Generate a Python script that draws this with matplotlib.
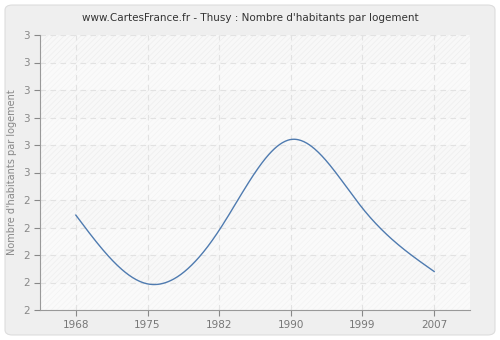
import numpy as np
import matplotlib
matplotlib.use("Agg")
import matplotlib.pyplot as plt
from matplotlib.patches import FancyBboxPatch
from matplotlib.ticker import FixedLocator, FuncFormatter

years = ["1968", "1975", "1982", "1990", "1999", "2007"]
values = [2.345, 2.095, 2.29, 2.62, 2.37, 2.14]
yticks = [2.0, 2.1, 2.2, 2.3, 2.4, 2.5, 2.6, 2.7, 2.8, 2.9, 3.0]


def natural_spline(x, y, n=400):
    x = np.asarray(x, float); y = np.asarray(y, float)
    k = len(x)
    h = np.diff(x)
    A = np.zeros((k, k)); b = np.zeros(k)
    A[0, 0] = 1; A[-1, -1] = 1
    for i in range(1, k - 1):
        A[i, i - 1] = h[i - 1]
        A[i, i] = 2 * (h[i - 1] + h[i])
        A[i, i + 1] = h[i]
        b[i] = 3 * ((y[i + 1] - y[i]) / h[i] - (y[i] - y[i - 1]) / h[i - 1])
    c = np.linalg.solve(A, b)
    xs = np.linspace(x[0], x[-1], n)
    ys = np.empty_like(xs)
    for j, xv in enumerate(xs):
        i = min(np.searchsorted(x, xv, side="right") - 1, k - 2)
        dx = xv - x[i]
        bb = (y[i + 1] - y[i]) / h[i] - h[i] * (2 * c[i] + c[i + 1]) / 3
        d = (c[i + 1] - c[i]) / (3 * h[i])
        ys[j] = y[i] + bb * dx + c[i] * dx ** 2 + d * dx ** 3
    return xs, ys


fig = plt.figure(figsize=(5, 3.4), dpi=100)
fig.patch.set_facecolor("white")
box = FancyBboxPatch((5 / 500, 5 / 340), 490 / 500, 330 / 340,
                     boxstyle="round,pad=0,rounding_size=0.015",
                     transform=fig.transFigure, facecolor="#efefef",
                     edgecolor="#dddddd", linewidth=0.8, zorder=-10)
fig.patches.append(box)

ax = fig.add_axes([40 / 500, 30 / 340, 430 / 500, 275 / 340])
ax.set_zorder(1)
ax.set_facecolor("#f9f9f9")
x = np.arange(len(years))
ax.set_xlim(-0.5, len(years) - 0.5)
ax.set_ylim(2.0, 3.0)

plt.rcParams["hatch.linewidth"] = 0.5
for i in range(len(yticks) - 1):
    if i % 2 == 1:
        ax.axhspan(yticks[i], yticks[i + 1], facecolor="#f8f8f8",
                   edgecolor="#eeeeee", hatch="//////", linewidth=0, zorder=0)
    else:
        ax.axhspan(yticks[i], yticks[i + 1], facecolor="#fafafa",
                   edgecolor="#f3f3f3", hatch="//////", linewidth=0, zorder=0)

xs, ys = natural_spline(x, values)
ax.plot(xs, ys, color="#4f7bb0", linewidth=1.0, zorder=3)

ax.set_xticks(x)
ax.set_xticklabels(years)
ax.yaxis.set_major_locator(FixedLocator(yticks))
ax.yaxis.set_major_formatter(FuncFormatter(lambda v, p: "%d" % int(np.floor(v + 0.5 + 1e-9))))
ax.grid(True, color="#e2e2e2", linestyle=(0, (5, 4)), linewidth=0.8, zorder=1)
for s in ["top", "right"]:
    ax.spines[s].set_visible(False)
for s in ["left", "bottom"]:
    ax.spines[s].set_color("#999999")
ax.tick_params(colors="#888888", labelsize=7.5, length=4, width=0.8)
ax.tick_params(axis="x", labelcolor="#777777")
ax.tick_params(axis="y", labelcolor="#888888")
ax.set_ylabel("Nombre d'habitants par logement", fontsize=7, color="#888888", labelpad=4)
fig.text(0.5, 1 - 18 / 340, "www.CartesFrance.fr - Thusy : Nombre d'habitants par logement",
         ha="center", va="center", fontsize=7.5, color="#333333")

fig.savefig("out.png", dpi=100, facecolor=fig.get_facecolor())
